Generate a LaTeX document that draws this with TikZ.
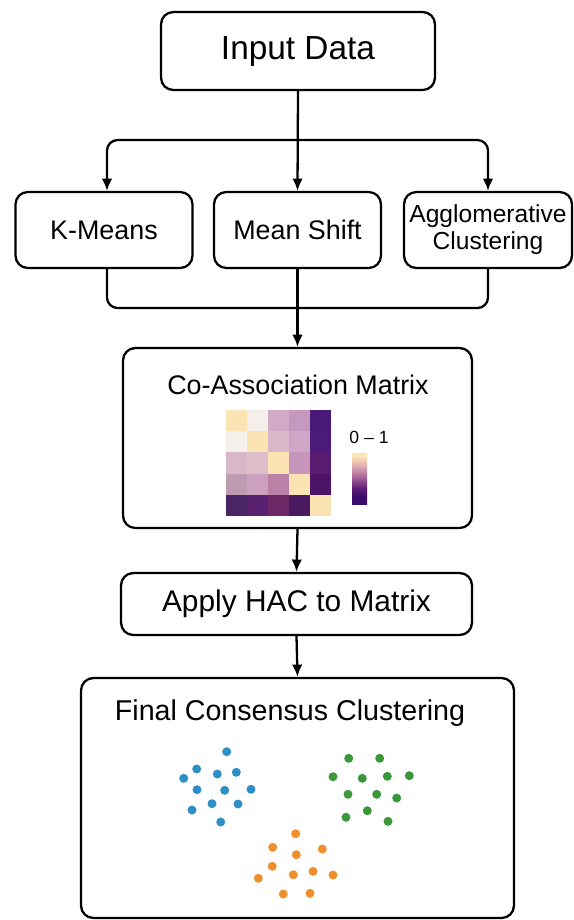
\documentclass[tikz,border=0pt]{standalone}
\usepackage{fontspec}
\setmainfont{Liberation Sans}
\usetikzlibrary{arrows.meta}
\definecolor{m11}{HTML}{FCE3B4}\definecolor{m12}{HTML}{F4EFEA}\definecolor{m13}{HTML}{D3AAC6}\definecolor{m14}{HTML}{C498BF}\definecolor{m15}{HTML}{4A1A78}
\definecolor{m21}{HTML}{F4F0EC}\definecolor{m22}{HTML}{FCE3B4}\definecolor{m23}{HTML}{DCB7C9}\definecolor{m24}{HTML}{D0A6C6}\definecolor{m25}{HTML}{4B1A7A}
\definecolor{m31}{HTML}{D8B8C6}\definecolor{m32}{HTML}{DEBEC9}\definecolor{m33}{HTML}{FCE3B4}\definecolor{m34}{HTML}{C795BB}\definecolor{m35}{HTML}{5A1C70}
\definecolor{m41}{HTML}{BE9BB1}\definecolor{m42}{HTML}{CCA0BE}\definecolor{m43}{HTML}{BB80A6}\definecolor{m44}{HTML}{FCE3B4}\definecolor{m45}{HTML}{4D1366}
\definecolor{m51}{HTML}{4B2466}\definecolor{m52}{HTML}{5A2070}\definecolor{m53}{HTML}{6E2766}\definecolor{m54}{HTML}{4C1A60}\definecolor{m55}{HTML}{FCE3B4}
\definecolor{cb0}{HTML}{3A0C6C}\definecolor{cb1}{HTML}{5C1E78}\definecolor{cb2}{HTML}{A05A95}\definecolor{cb3}{HTML}{DDAAB2}\definecolor{cb4}{HTML}{FDE5B5}
\definecolor{dotblue}{HTML}{2E8EC6}
\definecolor{dotgreen}{HTML}{3A973A}
\definecolor{dotorange}{HTML}{F0902C}
\pgfdeclareverticalshading{cbar}{100bp}{color(0bp)=(cb0); color(25bp)=(cb0); color(32bp)=(cb0); color(40bp)=(cb1); color(50bp)=(cb2); color(62bp)=(cb3); color(72bp)=(cb4); color(75bp)=(cb4); color(100bp)=(cb4)}
\tikzset{
  box/.style={draw, line width=1.3pt, rounded corners=7pt, inner sep=0pt, align=center},
  link/.style={line width=1.3pt, rounded corners=6pt},
  arr/.style={link, -{Latex[length=7pt,width=6pt]}}
}
\begin{document}
\begin{tikzpicture}[x=0.02cm, y=-0.02cm]
  \useasboundingbox (0, 0) rectangle (574, 920);
  \node[box, minimum width=5.48cm, minimum height=1.56cm, font=\fontsize{19}{22}\selectfont] (input) at (298, 51) {Input Data};
  \node[box, minimum width=3.54cm, minimum height=1.52cm, font=\fontsize{15.3}{18}\selectfont] (kmeans) at (104, 230) {K-Means};
  \node[box, minimum width=3.34cm, minimum height=1.52cm, font=\fontsize{15.3}{18}\selectfont] (mshift) at (297.5, 230) {Mean Shift};
  \node[box, minimum width=3.36cm, minimum height=1.52cm, font=\fontsize{14}{15.5}\selectfont] (agglo) at (488, 230) {Agglomerative\\Clustering};
  \node[box, minimum width=6.98cm, minimum height=3.6cm] (coassoc) at (297.5, 438) {};
  \node[font=\fontsize{15.3}{18}\selectfont] (coassoctitle) at (298, 385) {Co-Association Matrix};
  \node[box, minimum width=7.02cm, minimum height=1.24cm, font=\fontsize{17}{20}\selectfont] (hac) at (296.5, 604) {Apply HAC to Matrix};
  \node[box, minimum width=8.66cm, minimum height=4.8cm] (final) at (297.5, 798) {};
  \node[font=\fontsize{16.3}{19}\selectfont] (finaltitle) at (290, 713) {Final Consensus Clustering};
  \coordinate (split) at (298, 140);
  \coordinate (merge) at (297.5, 308);
  \draw[arr] (input.south) -- (mshift.north);
  \draw[arr] (split) -| ([xshift=0.06cm]kmeans.north);
  \draw[arr] (split) -| (agglo.north);
  \draw[link] ([xshift=0.06cm]kmeans.south) |- (merge) -| (agglo.south);
  \draw[arr] (mshift.south) -- (coassoc.north);
  \draw[arr] (coassoc.south) -- (hac.north);
  \draw[arr] (hac.south) -- (final.north);
  \foreach \r in {1,...,5}
    \foreach \c in {1,...,5}
      \fill[m\r\c] ({226+21*(\c-1)}, {410+21.2*(\r-1)}) rectangle ++(21, 21.2);
  \shade[shading=cbar] (352, 453) rectangle (367, 504);
  \node[font=\fontsize{10}{12}\selectfont] (range) at (369, 437) {0 -- 1};
  \foreach \p in {(226.7,751.7),(196.7,769),(217.3,774),(236.3,772.3),(183.7,778.3),(197,789.7),(224.7,790.3),(251,789.3),(212,803.7),(238,804),(192,810),(220.7,822)}
    \fill[dotblue] \p circle[radius=4.5];
  \foreach \p in {(348.7,758.3),(379.7,758.3),(333,776.7),(362.3,778.3),(387.3,776.3),(409.3,775.7),(348,794.3),(376.7,794.3),(396.7,798),(367.3,810.7),(346,817.3),(388,821.3)}
    \fill[dotgreen] \p circle[radius=4.5];
  \foreach \p in {(295.7,833.7),(272.7,847.3),(322.3,849),(296.3,854.7),(272.3,866.3),(293.3,874.7),(313,871.3),(333,875),(258.3,878.3),(283.3,894),(310,893.3)}
    \fill[dotorange] \p circle[radius=4.5];
\end{tikzpicture}
\end{document}
